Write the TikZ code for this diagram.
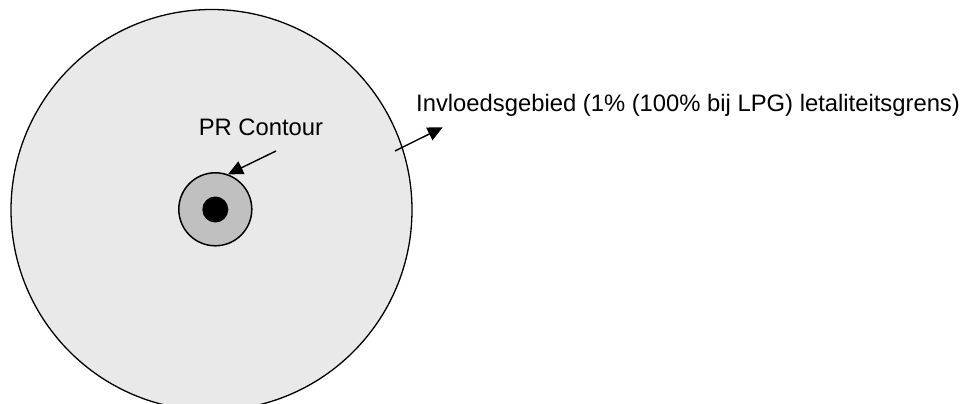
\documentclass[tikz,border=0pt]{standalone}
\usepackage{fontspec}
\setmainfont{Liberation Sans}
\usetikzlibrary{arrows.meta}
\definecolor{outerfill}{HTML}{E9E9E9}
\definecolor{innerfill}{HTML}{C0C0C0}
\tikzset{
  zone/.style={circle, draw=black, inner sep=0pt, minimum size=#1},
  lbl/.style={inner sep=0pt, font=\fontsize{23.8pt}{28pt}\selectfont},
  pointer/.style={line width=1.4pt, -{Triangle[length=15pt,width=14pt]}}
}
\begin{document}
\begin{tikzpicture}[x=1pt,y=-1pt]
\useasboundingbox (0,0) rectangle (969,404);
\begin{scope}
\clip (0,0) rectangle (969,404);
\node[zone=401pt, fill=outerfill, line width=1.3pt] (outer) at (211.5,210) {};
\end{scope}
\node[zone=73pt, fill=innerfill, line width=1.5pt] (inner) at (215.3,209.3) {};
\node[circle, fill=black, inner sep=0pt, minimum size=26pt] (core) at (215.3,209.5) {};
\node[lbl, anchor=base] (pr) at (261,135) {PR Contour};
\node[lbl, anchor=base west] (inv) at (416,111) {Invloedsgebied (1\% (100\% bij LPG) letaliteitsgrens)};
\coordinate (prstart) at (276,151);
\coordinate (invstart) at (395,151);
\coordinate (invtip) at (442.7,127.3);
\draw[pointer] (prstart) -- (inner.70);
\draw[pointer] (invstart) -- (invtip);
\end{tikzpicture}
\end{document}
